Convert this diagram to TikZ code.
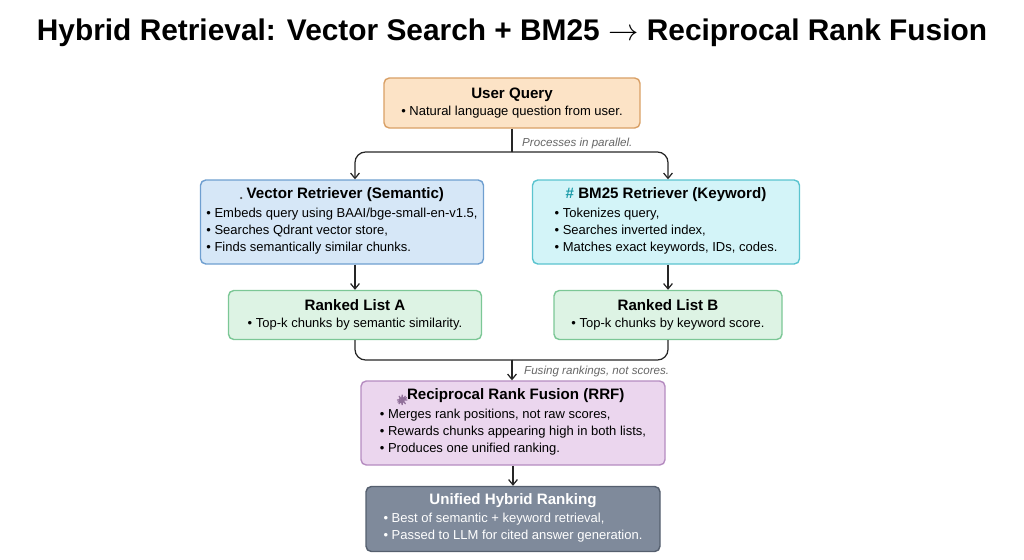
\documentclass[tikz,border=0pt]{standalone}
\usepackage{fontspec}
\setmainfont{Liberation Sans}
\usetikzlibrary{positioning,arrows.meta}
\definecolor{qfill}{HTML}{FCE3C6}\definecolor{qline}{HTML}{D9A066}
\definecolor{vfill}{HTML}{D6E7F7}\definecolor{vline}{HTML}{6F9FD0}
\definecolor{kfill}{HTML}{D3F4F8}\definecolor{kline}{HTML}{5BC4CF}
\definecolor{lfill}{HTML}{DDF3E4}\definecolor{lline}{HTML}{7CC796}
\definecolor{rfill}{HTML}{EBD6EE}\definecolor{rline}{HTML}{B58CC0}
\definecolor{ufill}{HTML}{7F8A9B}\definecolor{uline}{HTML}{555F6E}
\definecolor{hashc}{HTML}{1A9AA8}
\newcommand{\bl}[1]{\textbullet\ #1}
\begin{document}
\begin{tikzpicture}[x=0.02cm,y=-0.02cm,
    box/.style={rectangle, draw, line width=0.8pt, rounded corners=3pt, align=center, font=\fontsize{7.4}{9.6}\selectfont},
    head/.style={font=\fontsize{8.6}{10}\selectfont\bfseries},
    flow/.style={draw=black!85, line width=0.7pt, rounded corners=6pt},
    arr/.style={flow, -{Straight Barb[length=3pt,width=5pt]}},
    note/.style={font=\fontsize{6.6}{8}\selectfont\itshape, text=black!60, anchor=west}
]
\useasboundingbox (0,0) rectangle (1024,559);

\node[font=\fontsize{17}{20}\selectfont\bfseries] (title) at (512,33) {Hybrid Retrieval: Vector Search + BM25 $\rightarrow$ Reciprocal Rank Fusion};

% boxes
\node[box, fill=qfill, draw=qline, minimum width=256*0.02cm, minimum height=50*0.02cm] (query) at (512,103)
    {{\fontsize{8.6}{10}\selectfont\bfseries User Query}\\\bl{Natural language question from user.}};
\node[box, fill=vfill, draw=vline, minimum width=283*0.02cm, minimum height=84*0.02cm] (vec) at (342,222)
    {{\fontsize{8.6}{10}\selectfont\bfseries
      \tikz[baseline=-0.5pt]{\draw[black!70,line width=0.9pt] (0,0.07) circle (0.07);\draw[black!70,line width=1.4pt] (0.05,0.02)--(0.13,-0.06);}
      Vector Retriever (Semantic)}\\[1pt]
     \begin{tabular}{@{}l@{}}\bl{Embeds query using BAAI/bge-small-en-v1.5,}\\\bl{Searches Qdrant vector store,}\\\bl{Finds semantically similar chunks.}\end{tabular}};
\node[box, fill=kfill, draw=kline, minimum width=267*0.02cm, minimum height=84*0.02cm] (bm) at (666,222)
    {{\fontsize{8.6}{10}\selectfont\bfseries \textcolor{hashc}{\#} BM25 Retriever (Keyword)}\\[1pt]
     \begin{tabular}{@{}l@{}}\bl{Tokenizes query,}\\\bl{Searches inverted index,}\\\bl{Matches exact keywords, IDs, codes.}\end{tabular}};
\node[box, fill=lfill, draw=lline, minimum width=253*0.02cm, minimum height=49*0.02cm] (lista) at (355,315)
    {{\fontsize{8.6}{10}\selectfont\bfseries Ranked List A}\\\bl{Top-k chunks by semantic similarity.}};
\node[box, fill=lfill, draw=lline, minimum width=228*0.02cm, minimum height=49*0.02cm] (listb) at (668,315)
    {{\fontsize{8.6}{10}\selectfont\bfseries Ranked List B}\\\bl{Top-k chunks by keyword score.}};
\node[box, fill=rfill, draw=rline, minimum width=304*0.02cm, minimum height=84*0.02cm] (rrf) at (513,423)
    {{\fontsize{8.6}{10}\selectfont\bfseries
      \tikz[baseline=0pt]{\draw[rline!80!black,line width=0.6pt] (0,0.2)--(0.22,0.2)--(0.13,0.09)--(0.13,0)--(0.09,0.02)--(0.09,0.09)--cycle;}
      Reciprocal Rank Fusion (RRF)}\\[1pt]
     \begin{tabular}{@{}l@{}}\bl{Merges rank positions, not raw scores,}\\\bl{Rewards chunks appearing high in both lists,}\\\bl{Produces one unified ranking.}\end{tabular}};
\node[box, fill=ufill, draw=uline, text=white, minimum width=294*0.02cm, minimum height=65*0.02cm] (unified) at (513,519)
    {{\fontsize{8.6}{10}\selectfont\bfseries Unified Hybrid Ranking}\\[1pt]
     \begin{tabular}{@{}l@{}}\bl{Best of semantic + keyword retrieval,}\\\bl{Passed to LLM for cited answer generation.}\end{tabular}};

% connectors
\coordinate (split) at (512,152);
\coordinate (merge) at (512,360);
\draw[flow] (query.south) -- (split);
\draw[arr] (split) -| (vec.north -| lista);
\draw[arr] (split) -| (bm.north -| listb);
\node[note] (par) at (516,143) {Processes in parallel.};
\draw[arr] (vec.south -| lista) -- (lista.north);
\draw[arr] (bm.south -| listb) -- (listb.north);
\draw[flow] (lista.south) |- (merge);
\draw[flow] (listb.south) |- (merge);
\draw[arr] (merge) -- (rrf.north -| merge);
\node[note] (fuse) at (518,371) {Fusing rankings, not scores.};
\draw[arr] (rrf.south) -- (unified.north);
\end{tikzpicture}
\end{document}
